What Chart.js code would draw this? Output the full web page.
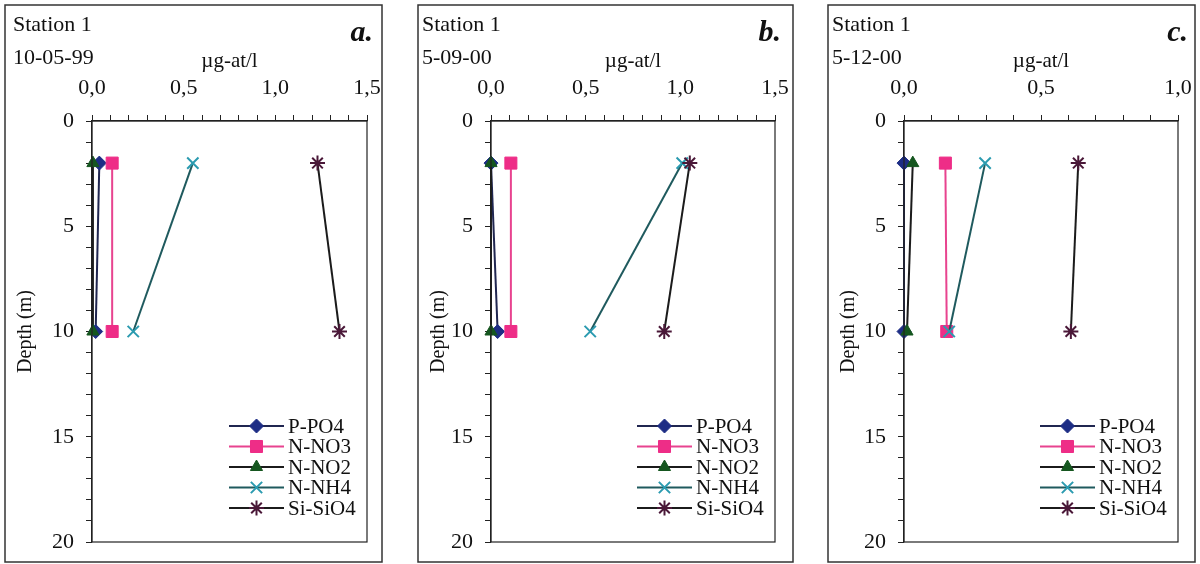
<!DOCTYPE html>
<html>
<head>
<meta charset="utf-8">
<title>Station 1 nutrients</title>
<script src="https://cdn.jsdelivr.net/npm/chart.js@4.4.1/dist/chart.umd.min.js"></script>
<style>
  body { margin: 0; background: #fff; width: 1200px; height: 564px; position: relative; overflow: hidden; }
  .panel { position: absolute; top: 4px; }
  #pa { left: 4px; }
  #pb { left: 417px; }
  #pc { left: 827px; }
</style>
</head>
<body>
<div class="panel" id="pa"><canvas width="379" height="559"></canvas></div>
<div class="panel" id="pb"><canvas width="377" height="559"></canvas></div>
<div class="panel" id="pc"><canvas width="369" height="559"></canvas></div>
<script>
//---data: one value per depth, one pair per sampling date---
const depths = [2, 10];
const dates = ['10-05-99', '5-09-00', '5-12-00'];
const letters = ['a.', 'b.', 'c.'];
const xMax = [1.5, 1.5, 1.0];

const pPO4 = [[0.04, 0.02], [0.0, 0.035], [0.0, 0.0]];
const nNO3 = [[0.11, 0.11], [0.105, 0.105], [0.151, 0.156]];
const nNO2 = [[0.005, 0.005], [0.0, 0.0], [0.032, 0.011]];
const nNH4 = [[0.55, 0.225], [1.01, 0.524], [0.296, 0.165]];
const siSiO4 = [[1.23, 1.35], [1.05, 0.915], [0.636, 0.609]];

//---panel layout---
const panelIds = ['pa', 'pb', 'pc'];
const axisLeft = [88, 74, 77];
const padRight = [16, 19, 18];
const textLeft = [9, 5, 5];
const letterRight = [10, 13, 8];

const FONT = '"Liberation Serif", "Times New Roman", serif';

function pairs(values){
  return depths.map((d, i) => ({x: values[i], y: d}));
}

function buildDatasets(p){
  return [
    {label: 'P-PO4', data: pairs(pPO4[p]), borderColor: '#202650', pointStyle: 'rectRot', pointRadius: 7,
      pointBackgroundColor: '#1d2d85', pointBorderColor: '#1d2d85', pointBorderWidth: 1, order: 5},
    {label: 'N-NO3', data: pairs(nNO3[p]), borderColor: '#e8438f', pointStyle: 'rect', pointRadius: 8.5,
      pointBackgroundColor: '#ee2d87', pointBorderColor: '#ee2d87', pointBorderWidth: 1, order: 4},
    {label: 'N-NO2', data: pairs(nNO2[p]), borderColor: '#1b1b1b', pointStyle: 'triangle', pointRadius: 7,
      pointBackgroundColor: '#15561f', pointBorderColor: '#15561f', pointBorderWidth: 1, order: 3},
    {label: 'N-NH4', data: pairs(nNH4[p]), borderColor: '#1f5a5e', pointStyle: 'crossRot', pointRadius: 8,
      pointBackgroundColor: '#2b9bb0', pointBorderColor: '#2b9bb0', pointBorderWidth: 2, order: 2},
    {label: 'Si-SiO4', data: pairs(siSiO4[p]), borderColor: '#1b1b1b', pointStyle: 'star', pointRadius: 7.5,
      pointBackgroundColor: '#5c1d45', pointBorderColor: '#4a1838', pointBorderWidth: 2, order: 1}
  ];
}

//---frame, header texts, plot box and legend drawn on top of the chart---
const panelDecor = {
  id: 'panelDecor',
  afterDraw(chart, args, opts){
    const ctx = chart.ctx;
    const ca = chart.chartArea;
    ctx.save();

    ctx.strokeStyle = '#333';
    ctx.lineWidth = 1.5;
    ctx.strokeRect(1, 1, chart.width - 2, chart.height - 2);

    ctx.strokeStyle = '#222';
    ctx.lineWidth = 1.2;
    ctx.strokeRect(ca.left, ca.top, ca.right - ca.left, ca.bottom - ca.top);

    ctx.fillStyle = '#111';
    ctx.textAlign = 'left';
    ctx.textBaseline = 'alphabetic';
    ctx.font = '22px ' + FONT;
    ctx.fillText('Station 1', opts.textX, 27);
    ctx.fillText(opts.date, opts.textX, 60);

    ctx.textAlign = 'right';
    ctx.font = 'bold italic 30px ' + FONT;
    ctx.fillText(opts.letter, chart.width - opts.letterRight, 37);

    // legend rows, bottom right of the plot
    const x0 = ca.right - 138;
    chart.data.datasets.forEach((ds, i) => {
      const y = ca.bottom - 116 + i * 20.5;
      ctx.strokeStyle = ds.borderColor;
      ctx.lineWidth = 2;
      ctx.beginPath();
      ctx.moveTo(x0, y);
      ctx.lineTo(x0 + 55, y);
      ctx.stroke();

      ctx.fillStyle = ds.pointBackgroundColor;
      ctx.strokeStyle = ds.pointBorderColor;
      ctx.lineWidth = ds.pointBorderWidth;
      Chart.helpers.drawPoint(ctx, {pointStyle: ds.pointStyle, radius: ds.pointRadius, rotation: 0,
        borderWidth: ds.pointBorderWidth}, x0 + 27.5, y);

      ctx.fillStyle = '#111';
      ctx.textAlign = 'left';
      ctx.textBaseline = 'middle';
      ctx.font = '21px ' + FONT;
      ctx.fillText(ds.label, x0 + 59, y + 1);
    });

    ctx.restore();
  }
};

function makePanel(p){
  const canvas = document.querySelector('#' + panelIds[p] + ' canvas');
  new Chart(canvas, {
    type: 'scatter',
    data: {datasets: buildDatasets(p)},
    options: {
      responsive: false,
      animation: false,
      clip: false,
      layout: {padding: {left: 0, top: 0, right: padRight[p], bottom: 21}},
      datasets: {scatter: {showLine: true, borderWidth: 2, clip: false}},
      plugins: {
        legend: {display: false},
        tooltip: {enabled: false},
        panelDecor: {date: dates[p], letter: letters[p], textX: textLeft[p], letterRight: letterRight[p]}
      },
      scales: {
        x: {
          type: 'linear',
          position: 'top',
          min: 0,
          max: xMax[p],
          // fixed box: labels at the ends may hang over the plot edges
          afterFit(scale){
            scale.height = 117;
            scale.paddingLeft = 0;
            scale.paddingRight = 0;
          },
          border: {display: true, color: '#222', width: 1.2},
          grid: {drawOnChartArea: false, drawTicks: true, tickLength: 6, color: '#222', lineWidth: 1},
          ticks: {
            stepSize: 0.1,
            autoSkip: false,
            maxRotation: 0,
            padding: 16,
            color: '#111',
            font: {family: FONT, size: 22, lineHeight: 1},
            callback: (v) => Math.round(v * 10) % 5 === 0 ? v.toFixed(1).replace('.', ',') : ''
          },
          title: {display: true, text: 'µg-at/l', color: '#111',
            font: {family: FONT, size: 21, lineHeight: 1}, padding: {top: 47, bottom: 0}}
        },
        y: {
          type: 'linear',
          position: 'left',
          reverse: true,
          min: 0,
          max: 20,
          afterFit(scale){
            scale.width = axisLeft[p];
            scale.paddingTop = 0;
            scale.paddingBottom = 0;
          },
          border: {display: true, color: '#222', width: 1.2},
          grid: {drawOnChartArea: false, drawTicks: true, tickLength: 6, color: '#222', lineWidth: 1},
          ticks: {
            stepSize: 1,
            autoSkip: false,
            padding: 12,
            color: '#111',
            font: {family: FONT, size: 22, lineHeight: 1},
            callback: (v) => v % 5 === 0 ? String(v) : ''
          },
          title: {display: true, text: 'Depth (m)', color: '#111',
            font: {family: FONT, size: 20, lineHeight: 1}, padding: {top: 12, bottom: 0}}
        }
      }
    },
    plugins: [panelDecor]
  });
}

//---draw the three sampling dates---
document.addEventListener('DOMContentLoaded', () => {
  for (let p = 0; p < panelIds.length; p++){
    makePanel(p);
  }
});
</script>
</body>
</html>
